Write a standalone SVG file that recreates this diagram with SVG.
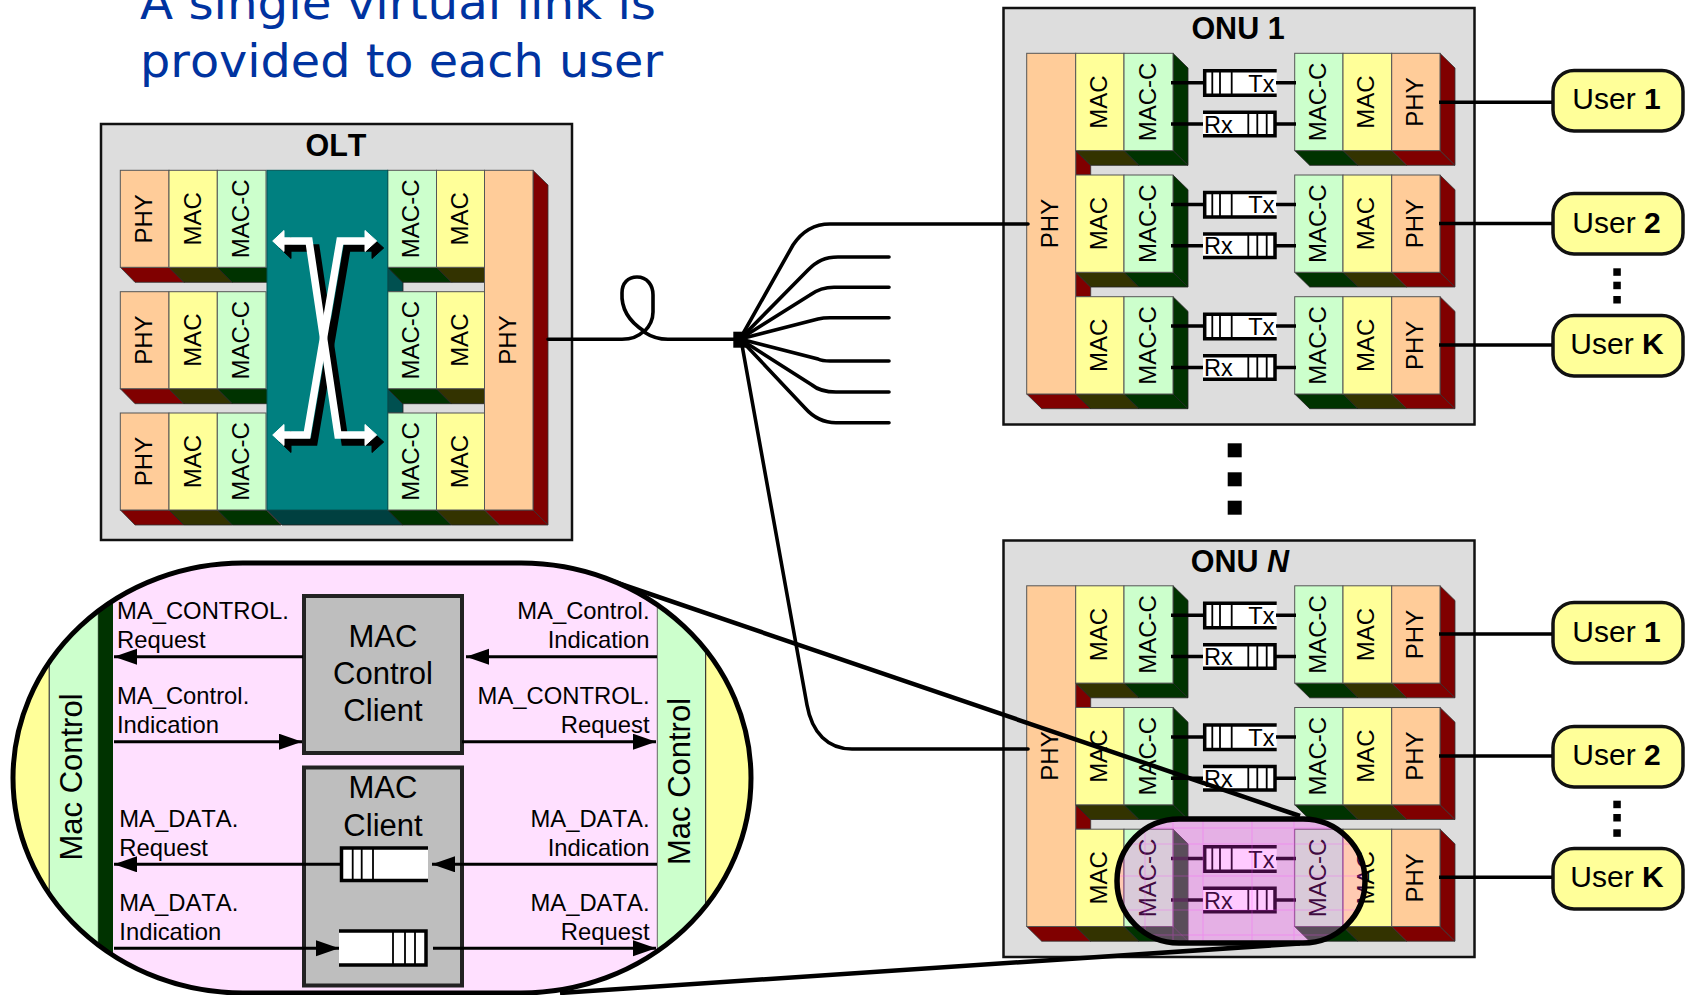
<svg xmlns="http://www.w3.org/2000/svg" xmlns:xlink="http://www.w3.org/1999/xlink" width="1686" height="995" viewBox="0 0 1686 995">
<style>
text{font-family:"Liberation Sans",Arial,sans-serif;fill:#000;font-kerning:none}
.box{fill:#DDDDDD;stroke:#111;stroke-width:2.5}
.phy{fill:#FFCC99;stroke:#555;stroke-width:1}
.mac{fill:#FFFF99;stroke:#555;stroke-width:1}
.mc{fill:#CCFFCC;stroke:#555;stroke-width:1}
.dr{fill:#800000;stroke:#333;stroke-width:.8}
.dy{fill:#333300;stroke:#222;stroke-width:.8}
.dg{fill:#003300;stroke:#222;stroke-width:.8}
.dt{fill:#004040;stroke:#222;stroke-width:.8}
.dt2{fill:#005050;stroke:#222;stroke-width:.8}
.t{font-size:24px;text-anchor:middle}
.title{font-size:30.500px;font-weight:700;text-anchor:middle}
.q{font-size:23.500px}
.qw{fill:#fff}
.ql{fill:none;stroke:#000;stroke-width:3.5}
.qv{stroke:#000;stroke-width:1.8}
.user{fill:#FFFF99;stroke:#111;stroke-width:3.5}
.ut{font-size:30px;text-anchor:middle}
.b{font-weight:700}
.c{fill:none;stroke:#000;stroke-width:3.5}
.f{fill:none;stroke:#000;stroke-width:3.6;stroke-linecap:round}
.a{fill:none;stroke:#000;stroke-width:3}
.l{font-size:23.800px}
.e{text-anchor:end}
.big{font-size:31px;text-anchor:middle}
.client{fill:#BEBEBE;stroke:#222;stroke-width:4}
.xp{fill:none;stroke-width:7.5}
.grid{stroke:#FF40FF;stroke-width:1;opacity:.3}
</style>
<defs>
<marker id="ah" markerUnits="userSpaceOnUse" markerWidth="24" markerHeight="17" refX="23" refY="8" orient="auto"><path d="M0 0L23 8L0 16Z" fill="#000"/></marker>
<clipPath id="lens"><rect x="13" y="563" width="738" height="430" rx="230" ry="215"/></clipPath>
<clipPath id="small"><rect x="1117" y="819" width="248" height="124" rx="62" ry="62"/></clipPath>
<g id="xarrow">
<path class="xp" d="M282 241H309L338 435H367"/>
<path class="xp" d="M367 241H340L307 435H282"/>
<path d="M272.7 241L284 230.5V251.500Z"/>
<path d="M376.700 241L365 230.500V251.500Z"/>
<path d="M272.700 435L284 424.500V445.500Z"/>
<path d="M376.700 435L365 424.500V445.500Z"/>
</g>
<g id="onu-row">
<path class="dg" d="M1173 0L1188 14.700V112L1173 97.300Z"/>
<path class="dy" d="M1075.700 97.300H1124L1139 112H1090.700Z"/>
<path class="dg" d="M1124 97.300H1173L1188 112H1139Z"/>
<path class="dg" d="M1294.700 97.300H1343L1358 112H1309.700Z"/>
<path class="dy" d="M1343 97.300H1391.700L1406.700 112H1358Z"/>
<path class="dr" d="M1391.700 97.300H1440L1455 112H1406.700Z"/>
<path class="dr" d="M1440 0L1455 14.700V112L1440 97.300Z"/>
<rect class="mac" x="1075.700" y="0" width="48.300" height="97.300"/>
<rect class="mc" x="1124" y="0" width="49" height="97.300"/>
<rect class="mc" x="1294.700" y="0" width="48.300" height="97.300"/>
<rect class="mac" x="1343" y="0" width="48.700" height="97.300"/>
<rect class="phy" x="1391.700" y="0" width="48.300" height="97.300"/>
<rect class="qw" x="1204" y="17.500" width="72.700" height="24.500"/>
<path class="ql" d="M1276.700 17.500H1204.700V42H1276.700"/>
<path class="qv" d="M1212.300 17.500V42M1220 17.500V42M1231.700 17.500V42"/>
<rect class="qw" x="1203" y="59" width="72" height="23.500"/>
<path class="ql" d="M1203 59H1275V82.500H1203"/>
<path class="qv" d="M1248.300 59V82.500M1257.300 59V82.500M1266.700 59V82.500"/>
</g>
<g id="onu-phy">
<path class="dr" d="M1026.700 340.700H1075.700L1090.700 355.400H1041.700Z"/>
<path class="dr" d="M1075.700 97.300L1090.700 112V121.700H1075.700Z"/>
<path class="dr" d="M1075.700 219L1090.700 233.700V243.400H1075.700Z"/>
<rect class="phy" x="1026.700" y="0" width="49" height="340.700"/>
</g>
<g id="olt-left">
<path class="dr" d="M120.300 97H169L184 112H135Z"/>
<path class="dy" d="M169 97H217.300L232.300 112H184Z"/>
<path class="dg" d="M217.300 97H266L281 112H232.300Z"/>
<rect class="phy" x="120.300" y="0" width="48.700" height="97"/>
<rect class="mac" x="169" y="0" width="48.300" height="97"/>
<rect class="mc" x="217.300" y="0" width="48.700" height="97"/>
</g>
<g id="olt-right">
<path class="dg" d="M387.700 97H436.500L451.500 112H402.700Z"/>
<path class="dy" d="M436.500 97H484.500L499.500 112H451.500Z"/>
<rect class="mc" x="387.700" y="0" width="48.800" height="97"/>
<rect class="mac" x="436.500" y="0" width="48" height="97"/>
</g>
</defs>

<g id="headline">
<text x="140" y="19" font-size="47" style="font-family:'DejaVu Sans',Verdana,sans-serif;fill:#0033A0" textLength="516" lengthAdjust="spacingAndGlyphs">A single virtual link is</text>
<text x="140" y="77" font-size="47" style="font-family:'DejaVu Sans',Verdana,sans-serif;fill:#0033A0" textLength="523" lengthAdjust="spacingAndGlyphs">provided to each user</text>
</g>

<g id="olt">
<rect class="box" x="101" y="124" width="471" height="416"/>
<text class="title" x="336" y="156">OLT</text>
<path class="dt" d="M267 510H388L403 525H282Z"/>
<use href="#olt-left" transform="translate(0 170.300)"/>
<use href="#olt-left" transform="translate(0 291.700)"/>
<use href="#olt-left" transform="translate(0 413)"/>
<path class="dt2" d="M387.700 267L403 282V291.700H387.700Z"/>
<path class="dt2" d="M387.700 388.700L403 403.700V413H387.700Z"/>
<use href="#olt-right" transform="translate(0 170.300)"/>
<use href="#olt-right" transform="translate(0 291.700)"/>
<use href="#olt-right" transform="translate(0 413)"/>
<path class="dr" d="M484.500 510H533L548 525H499.500Z"/>
<path class="dr" d="M533 170.300L548 185V525L533 510Z"/>
<rect class="phy" x="484.500" y="170.300" width="48.500" height="339.700"/>
<rect x="267" y="170.300" width="120.700" height="339.700" fill="#008080" stroke="#055" stroke-width="1"/>
<use href="#xarrow" transform="translate(7 7)" fill="#000" stroke="#000"/>
<use href="#xarrow" fill="#fff" stroke="#fff"/>
<text class="t" transform="translate(152 218.800) rotate(-90)">PHY</text>
<text class="t" transform="translate(200.500 218.800) rotate(-90)">MAC</text>
<text class="t" transform="translate(249 218.800) rotate(-90)">MAC-C</text>
<text class="t" transform="translate(419 218.800) rotate(-90)">MAC-C</text>
<text class="t" transform="translate(467.800 218.800) rotate(-90)">MAC</text>
<text class="t" transform="translate(152 340.200) rotate(-90)">PHY</text>
<text class="t" transform="translate(200.500 340.200) rotate(-90)">MAC</text>
<text class="t" transform="translate(249 340.200) rotate(-90)">MAC-C</text>
<text class="t" transform="translate(419 340.200) rotate(-90)">MAC-C</text>
<text class="t" transform="translate(467.800 340.200) rotate(-90)">MAC</text>
<text class="t" transform="translate(152 461.500) rotate(-90)">PHY</text>
<text class="t" transform="translate(200.500 461.500) rotate(-90)">MAC</text>
<text class="t" transform="translate(249 461.500) rotate(-90)">MAC-C</text>
<text class="t" transform="translate(419 461.500) rotate(-90)">MAC-C</text>
<text class="t" transform="translate(467.800 461.500) rotate(-90)">MAC</text>
<text class="t" transform="translate(515.500 340) rotate(-90)">PHY</text>
</g>

<g id="onu-1">
<rect class="box" x="1003.500" y="8" width="471" height="416.500"/>
<text class="title" x="1238" y="39.300">ONU 1</text>
<use href="#onu-phy" transform="translate(0 53.300)"/>
<use href="#onu-row" transform="translate(0 53.300)"/>
<use href="#onu-row" transform="translate(0 175)"/>
<use href="#onu-row" transform="translate(0 296.700)"/>
<text class="t" transform="translate(1058 223.500) rotate(-90)">PHY</text>
<text class="t" transform="translate(1107 102) rotate(-90)">MAC</text>
<text class="t" transform="translate(1155.500 102) rotate(-90)">MAC-C</text>
<text class="t" transform="translate(1325.500 102) rotate(-90)">MAC-C</text>
<text class="t" transform="translate(1374 102) rotate(-90)">MAC</text>
<text class="t" transform="translate(1422.500 102) rotate(-90)">PHY</text>
<text class="q" x="1248.300" y="91.700">Tx</text><text class="q" x="1204" y="132.700">Rx</text>
<text class="t" transform="translate(1107 223.700) rotate(-90)">MAC</text>
<text class="t" transform="translate(1155.500 223.700) rotate(-90)">MAC-C</text>
<text class="t" transform="translate(1325.500 223.700) rotate(-90)">MAC-C</text>
<text class="t" transform="translate(1374 223.700) rotate(-90)">MAC</text>
<text class="t" transform="translate(1422.500 223.700) rotate(-90)">PHY</text>
<text class="q" x="1248.300" y="213.400">Tx</text><text class="q" x="1204" y="254.400">Rx</text>
<text class="t" transform="translate(1107 345.400) rotate(-90)">MAC</text>
<text class="t" transform="translate(1155.500 345.400) rotate(-90)">MAC-C</text>
<text class="t" transform="translate(1325.500 345.400) rotate(-90)">MAC-C</text>
<text class="t" transform="translate(1374 345.400) rotate(-90)">MAC</text>
<text class="t" transform="translate(1422.500 345.400) rotate(-90)">PHY</text>
<text class="q" x="1248.300" y="335.100">Tx</text><text class="q" x="1204" y="376.100">Rx</text>
</g>

<g id="onu-n">
<rect class="box" x="1003.500" y="540.500" width="471" height="416.500"/>
<text class="title" x="1240" y="571.700">ONU <tspan font-style="italic">N</tspan></text>
<use href="#onu-phy" transform="translate(0 585.800)"/>
<use href="#onu-row" transform="translate(0 585.800)"/>
<use href="#onu-row" transform="translate(0 707.500)"/>
<use href="#onu-row" transform="translate(0 829.200)"/>
<text class="t" transform="translate(1058 756) rotate(-90)">PHY</text>
<text class="t" transform="translate(1107 634.500) rotate(-90)">MAC</text>
<text class="t" transform="translate(1155.500 634.500) rotate(-90)">MAC-C</text>
<text class="t" transform="translate(1325.500 634.500) rotate(-90)">MAC-C</text>
<text class="t" transform="translate(1374 634.500) rotate(-90)">MAC</text>
<text class="t" transform="translate(1422.500 634.500) rotate(-90)">PHY</text>
<text class="q" x="1248.300" y="624.200">Tx</text><text class="q" x="1204" y="665.200">Rx</text>
<text class="t" transform="translate(1107 756.200) rotate(-90)">MAC</text>
<text class="t" transform="translate(1155.500 756.200) rotate(-90)">MAC-C</text>
<text class="t" transform="translate(1325.500 756.200) rotate(-90)">MAC-C</text>
<text class="t" transform="translate(1374 756.200) rotate(-90)">MAC</text>
<text class="t" transform="translate(1422.500 756.200) rotate(-90)">PHY</text>
<text class="q" x="1248.300" y="745.900">Tx</text><text class="q" x="1204" y="786.900">Rx</text>
<text class="t" transform="translate(1107 877.900) rotate(-90)">MAC</text>
<text class="t" transform="translate(1155.500 877.900) rotate(-90)">MAC-C</text>
<text class="t" transform="translate(1325.500 877.900) rotate(-90)">MAC-C</text>
<text class="t" transform="translate(1374 877.900) rotate(-90)">MAC</text>
<text class="t" transform="translate(1422.500 877.900) rotate(-90)">PHY</text>
<text class="q" x="1248.300" y="867.600">Tx</text><text class="q" x="1204" y="908.600">Rx</text>
</g>

<g id="users-1">
<g id="user-1-1"><rect class="user" x="1553" y="70.500" width="130" height="60.500" rx="21"/><text class="ut" x="1616.500" y="109.300">User <tspan class="b">1</tspan></text></g>
<g id="user-1-2"><rect class="user" x="1553" y="193.500" width="130" height="60.500" rx="21"/><text class="ut" x="1616.500" y="232.700">User <tspan class="b">2</tspan></text></g>
<g id="user-1-k"><rect class="user" x="1553" y="315.500" width="130" height="60.500" rx="21"/><text class="ut" x="1617" y="354.300">User <tspan class="b">K</tspan></text></g>
</g>
<g id="users-n">
<g id="user-n-1"><rect class="user" x="1553" y="602.500" width="130" height="60.500" rx="21"/><text class="ut" x="1616.500" y="641.700">User <tspan class="b">1</tspan></text></g>
<g id="user-n-2"><rect class="user" x="1553" y="726.500" width="130" height="60.500" rx="21"/><text class="ut" x="1616.500" y="765">User <tspan class="b">2</tspan></text></g>
<g id="user-n-k"><rect class="user" x="1553" y="848.500" width="130" height="60.500" rx="21"/><text class="ut" x="1617" y="886.700">User <tspan class="b">K</tspan></text></g>
</g>
<g id="dots" fill="#000">
<rect x="1227.700" y="443.300" width="14" height="14"/><rect x="1227.700" y="472.300" width="14" height="14"/><rect x="1227.700" y="500.700" width="14" height="14"/>
<rect x="1613.300" y="268.300" width="7.500" height="7.500"/><rect x="1613.300" y="281.700" width="7.500" height="7.500"/><rect x="1613.300" y="296" width="7.500" height="7.500"/>
<rect x="1613.300" y="800.700" width="7.500" height="7.500"/><rect x="1613.300" y="814" width="7.500" height="7.500"/><rect x="1613.300" y="829.300" width="7.500" height="7.500"/>
</g>

<g id="connectors">
<g class="rows">
<path class="c" d="M1171 82.700H1203M1276 82.700H1296M1171 124H1203M1276 124H1296M1439 102.300H1552"/>
<path class="c" d="M1171 204.400H1203M1276 204.400H1296M1171 245.700H1203M1276 245.700H1296M1439 223.500H1552"/>
<path class="c" d="M1171 326.100H1203M1276 326.100H1296M1171 367.400H1203M1276 367.400H1296M1439 345H1552"/>
<path class="c" d="M1171 615.200H1203M1276 615.200H1296M1171 656.500H1203M1276 656.500H1296M1439 634H1552"/>
<path class="c" d="M1171 736.900H1203M1276 736.900H1296M1171 778.200H1203M1276 778.200H1296M1439 756H1552"/>
<path class="c" d="M1171 858.600H1203M1276 858.600H1296M1171 899.900H1203M1276 899.900H1296M1439 877.300H1552"/>
</g>
<g id="fibers">
<path class="f" d="M548 339.300H622C632 339.300 640 335 644 331C630 322 621 310 622 293C622 283 628 277 637 277C647 277 653 285 653 295V312C653 320 649 327 644 332C650 336 658 339.300 668 339.300H735"/>
<rect x="733.300" y="331.700" width="13.400" height="16" fill="#000"/>
<path class="f" d="M740 339L793 245C803 230 815 224 830 224H1028"/>
<path class="f" d="M740 339L808 270C817 261 825 257 838 257H889"/>
<path class="f" d="M740 339L810 295C817 290 824 287.300 834 287.300H889"/>
<path class="f" d="M740 339L818 319C822 318 825 317.700 830 317.700H889"/>
<path class="f" d="M740 339L818 359C822 361 825 361 830 361H889"/>
<path class="f" d="M740 339L812 385C818 390 826 392 836 392H889"/>
<path class="f" d="M740 339L805 408C813 417 823 422.700 836 422.700H889"/>
<path class="f" d="M742 345L807 705C812 733 828 749 852 749H1028"/>
</g>
</g>

<g id="zoom-lens">
<rect x="1117" y="819" width="248" height="124" rx="62" ry="62" fill="#FF30FF" fill-opacity=".25"/>
<g clip-path="url(#small)">
<path d="M1173 829.200L1188 843.900V941H1139L1124 926.500H1173ZM1294.700 926.500H1343L1358 941H1309.700Z" fill="#fff" opacity=".14"/>
<path class="grid" d="M1110 828H1380M1110 844H1380M1110 876H1380M1110 910H1380M1110 935H1380M1145 810V950M1173 810V950M1203 810V950M1252 810V950M1294 810V950M1343 810V950"/>
</g>
<rect x="1117" y="819" width="248" height="124" rx="62" ry="62" fill="none" stroke="#000" stroke-width="5.500"/>
<path d="M600 577L1300 816" fill="none" stroke="#000" stroke-width="4.500"/>
<path d="M560 993L1300 943.500" fill="none" stroke="#000" stroke-width="4.500"/>
</g>

<g id="magnified">
<rect x="13" y="563" width="738" height="430" rx="230" ry="215" fill="#FFE0FF"/>
<g clip-path="url(#lens)">
<rect x="0" y="560" width="49.300" height="440" fill="#FFFF99" stroke="#222" stroke-width="1"/>
<rect x="49.300" y="560" width="49" height="440" fill="#CCFFCC" stroke="#444" stroke-width="1"/>
<rect x="98.300" y="560" width="14.700" height="440" fill="#003300"/>
<rect x="657.300" y="560" width="48.400" height="440" fill="#CCFFCC" stroke="#666" stroke-width="1"/>
<rect x="705.700" y="560" width="50" height="440" fill="#FFFF99" stroke="#222" stroke-width="1"/>
</g>
<rect x="13" y="563" width="738" height="430" rx="230" ry="215" fill="none" stroke="#000" stroke-width="5"/>
<text class="big" transform="translate(82.200 777) rotate(-90)">Mac Control</text>
<text class="big" transform="translate(690.200 781.500) rotate(-90)">Mac Control</text>
<g id="mac-control-client">
<rect class="client" x="304" y="596" width="158" height="157"/>
<text class="big" x="383" y="646.700">MAC</text><text class="big" x="383" y="684">Control</text><text class="big" x="383" y="721">Client</text>
</g>
<g id="mac-client">
<rect class="client" x="304" y="767.500" width="158" height="218"/>
<text class="big" x="383" y="798.300">MAC</text><text class="big" x="383" y="835.500">Client</text>
<rect x="341" y="848" width="87" height="32.500" fill="#fff"/>
<path class="ql" d="M428 848H341.500V880.500H428"/>
<path class="qv" d="M352.700 848V880.500M361.700 848V880.500M373 848V880.500"/>
<rect x="339" y="931" width="87" height="34" fill="#fff"/>
<path class="ql" d="M339 931H426V965H339"/>
<path class="qv" d="M393 931V965M405 931V965M415 931V965"/>
</g>
<g id="lens-labels">
<text class="l" x="117" y="619">MA_CONTROL.</text><text class="l" x="117" y="647.700">Request</text>
<text class="l" x="117" y="704.300">MA_Control.</text><text class="l" x="117" y="732.700">Indication</text>
<text class="l" x="119.300" y="826.700">MA_DATA.</text><text class="l" x="119.300" y="855.700">Request</text>
<text class="l" x="119.300" y="911">MA_DATA.</text><text class="l" x="119.300" y="940">Indication</text>
<text class="l e" x="649.500" y="619">MA_Control.</text><text class="l e" x="649.500" y="647.700">Indication</text>
<text class="l e" x="649.500" y="704.300">MA_CONTROL.</text><text class="l e" x="649.500" y="732.700">Request</text>
<text class="l e" x="649.500" y="826.700">MA_DATA.</text><text class="l e" x="649.500" y="855.700">Indication</text>
<text class="l e" x="649.500" y="911">MA_DATA.</text><text class="l e" x="649.500" y="940">Request</text>
</g>
<g id="lens-arrows">
<path class="a" marker-end="url(#ah)" d="M303 656.700H114"/>
<path class="a" marker-end="url(#ah)" d="M114 741.700H302"/>
<path class="a" marker-end="url(#ah)" d="M340 864.300H114"/>
<path class="a" marker-end="url(#ah)" d="M114 948.300H339"/>
<path class="a" marker-end="url(#ah)" d="M657 656.700H466"/>
<path class="a" marker-end="url(#ah)" d="M462 741.700H656"/>
<path class="a" marker-end="url(#ah)" d="M657 864.300H432"/>
<path class="a" marker-end="url(#ah)" d="M433 948.300H656"/>
</g>
</g>
</svg>
